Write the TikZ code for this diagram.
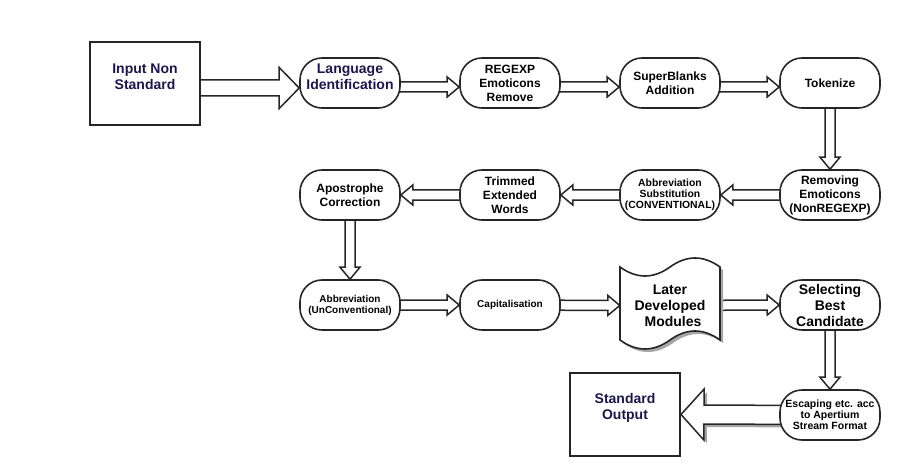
\documentclass[tikz,border=0pt]{standalone}
\usepackage{fontspec}
\setmainfont{Liberation Sans}
\usetikzlibrary{calc,shadows,backgrounds}
\definecolor{navy}{RGB}{28,22,78}
\definecolor{edge}{RGB}{38,38,38}
\tikzset{
 proc/.style={draw=edge, line width=1.6pt, fill=white, rounded corners=22pt, minimum width=100pt, minimum height=50pt, inner sep=0pt, align=center, font=\bfseries\fontsize{12}{14}\selectfont},
 smallfont/.style={font=\bfseries\fontsize{10}{11}\selectfont},
 bigfont/.style={font=\bfseries\fontsize{14}{16}\selectfont},
 iobox/.style={draw=edge, line width=2pt, fill=white, minimum width=110pt, minimum height=83pt, inner sep=0pt},
 iolabel/.style={align=center, text=navy, font=\bfseries\fontsize{14}{16}\selectfont},
 barrow/.style={draw=edge, line width=1.5pt, fill=white, line join=miter},
 shadowed/.style={drop shadow={shadow xshift=3pt, shadow yshift=-3pt, fill=black!35, opacity=1}},
 tapestyle/.style={draw=edge, line width=1.6pt, fill=white},
}
% #1 options, #2 start, #3 end, #4 half shaft, #5 half head, #6 head length
\newcommand\blockarrow[6][]{%
  \coordinate (bah) at ($(#3)!#6!(#2)$);
  \draw[barrow,#1] ($(#2)!#4!90:(#3)$) -- ($(bah)!#4!-90:(#2)$) -- ($(bah)!#5!-90:(#2)$) -- (#3)
     -- ($(bah)!#5!90:(#2)$) -- ($(bah)!#4!90:(#2)$) -- ($(#2)!#4!-90:(#3)$) -- cycle;
}
\begin{document}
\begin{tikzpicture}[x=1pt,y=-1pt]
\useasboundingbox (0,0) rectangle (900,476);
% I/O boxes
\node[iobox, label={[iolabel,yshift=6.5pt]center:Input Non\\Standard}] (in) at (145,83.5) {};
\node[iobox, label={[iolabel,yshift=6.5pt]center:Standard\\Output}] (out) at (625,414.5) {};
% row 1
\node[proc, label={[iolabel,yshift=6pt]center:Language\\Identification}] (lang) at (350,83) {};
\node[proc] (regexp) at (510,83) {REGEXP\\Emoticons\\Remove};
\node[proc] (super) at (670,83) {SuperBlanks\\Addition};
\node[proc] (tok) at (830,83) {Tokenize};
% row 2
\node[proc] (rem) at (830,195) {Removing\\Emoticons\\(NonREGEXP)};
\node[proc, font=\bfseries\fontsize{10.4}{11}\selectfont] (abs) at (670,195) {Abbreviation\\Substitution\\(CONVENTIONAL)};
\node[proc] (trim) at (510,195) {Trimmed\\Extended\\Words};
\node[proc] (apo) at (350,195) {Apostrophe\\Correction};
% row 3
\node[proc, smallfont] (abu) at (350,305) {Abbreviation\\(UnConventional)};
\node[proc, smallfont] (cap) at (510,305) {Capitalisation};
\node[bigfont, align=center, minimum width=100pt, inner sep=0pt] (later) at (670,305.5) {Later\\Developed\\\hspace*{6pt}Modules};
\node[proc, bigfont] (sel) at (830,305) {Selecting\\Best\\Candidate};
% row 4
\node[proc, font=\bfseries\fontsize{10.5}{11}\selectfont] (esc) at (830,415) {Escaping etc. acc\\to Apertium\\Stream Format};
% helper coordinates
\coordinate (a1s) at ($(in.center)+(0,4.5)$);
\coordinate (a1e) at ($(lang.west)+(0,5)$);
\coordinate (a2s) at ($(lang.center)+(0,4)$);
\coordinate (a2e) at ($(regexp.west)+(0,4)$);
\coordinate (a3s) at ($(regexp.center)+(0,4)$);
\coordinate (a3e) at ($(super.west)+(0,4)$);
\coordinate (a4s) at ($(super.center)+(0,4)$);
\coordinate (a4e) at ($(tok.west)+(0,4)$);
\begin{scope}[on background layer]
  \fill[white] (0,0) rectangle (900,476);
  \blockarrow{a1s}{a1e}{8pt}{20.5pt}{20pt}
  \blockarrow{a2s}{a2e}{5pt}{10pt}{12pt}
  \blockarrow{a3s}{a3e}{5pt}{10pt}{12pt}
  \blockarrow{a4s}{a4e}{5pt}{10pt}{12pt}
  \blockarrow{tok.center}{rem.north}{5pt}{10pt}{12pt}
  \blockarrow{rem.center}{abs.east}{5pt}{10pt}{12pt}
  \blockarrow{abs.center}{trim.east}{5pt}{10pt}{12pt}
  \blockarrow{trim.center}{apo.east}{5pt}{10pt}{12pt}
  \blockarrow{apo.center}{abu.north}{5pt}{10pt}{12pt}
  \blockarrow{abu.center}{cap.west}{5pt}{10pt}{12pt}
  \blockarrow{cap.center}{later.west}{5pt}{10pt}{12pt}
  \blockarrow{later.center}{sel.west}{5pt}{10pt}{12pt}
  \blockarrow{sel.center}{esc.north}{5pt}{10pt}{12pt}
  \blockarrow[shadowed]{esc.center}{out.east}{9.5pt}{25.5pt}{23pt}
  % tape shape
  \draw[tapestyle, shadowed] (620,267) .. controls (636.7,279) and (653.3,279) .. (670,267)
     .. controls (686.7,255) and (703.3,255) .. (720,267) -- (720,340)
     .. controls (703.3,328) and (686.7,328) .. (670,340)
     .. controls (653.3,352) and (636.7,352) .. (620,340) -- cycle;
\end{scope}
\end{tikzpicture}
\end{document}
